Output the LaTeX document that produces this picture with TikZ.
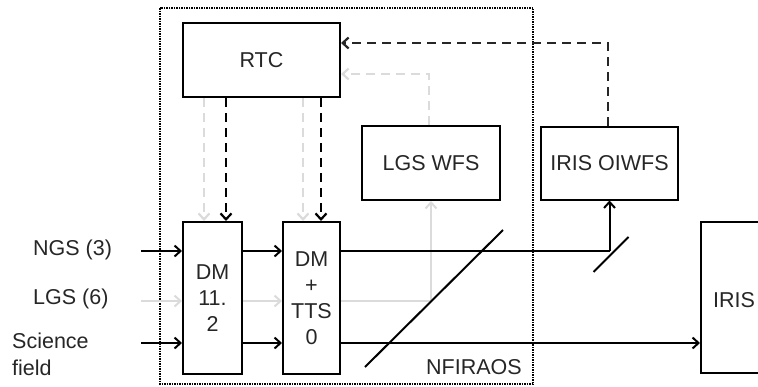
\documentclass[tikz,border=0pt]{standalone}
\usepackage{fontspec}
\setmainfont{Liberation Sans}
\usetikzlibrary{arrows.meta}

\tikzset{
	blk/.style = {draw, line width = 2pt, inner sep = 0pt, font = \fontsize{21.5}{26}\selectfont, align = center, text = black!85},
	lab/.style = {font = \fontsize{21.5}{27}\selectfont, align = left, anchor = west, inner sep = 0pt, text = black!85},
	beam/.style = {line width = 2pt},
	faint/.style = {line width = 2pt, black!14},
	ctrl/.style = {line width = 2.2pt, dash pattern = on 9pt off 6pt},
}

\begin{document}
\begin{tikzpicture}[x = 1pt, y = -1pt, >={Straight Barb[length=6pt, width=11pt]}]
	\useasboundingbox (0,0) rectangle (758,386);
	\draw[line width = 1.5pt, densely dotted] (160,8) rectangle (533,384);

	\node[blk, minimum width = 157pt, minimum height = 74pt] (rtc) at (261.5,60) {RTC};
	\node[blk, minimum width = 138pt, minimum height = 74pt] (lgswfs) at (431,163) {LGS WFS};
	\node[blk, minimum width = 137pt, minimum height = 73pt] (oiwfs) at (609.5,163) {IRIS OIWFS};
	\node[blk, minimum width = 59pt, minimum height = 152pt] (dma) at (212.5,298) {DM\\11.\\2};
	\node[blk, minimum width = 57pt, minimum height = 152pt] (dmb) at (311.5,298) {DM\\+\\TTS\\0};
	\node[blk, anchor = west, minimum width = 100pt, minimum height = 151pt] (iris) at (700,297.5) {};
	\node[lab] (iristext) at (713,300) {IRIS};

	\node[lab] (ngslab) at (33,250) {NGS (3)};
	\node[lab] (lgslab) at (33,299) {LGS (6)};
	\node[lab, anchor = north west] (scilab) at (12,333) {Science\\field};
	\node[lab, anchor = center] (nfiraos) at (474,367) {NFIRAOS};

	\coordinate (ngs) at (141,251);
	\coordinate (lgs) at (141,301);
	\coordinate (sci) at (141,343);
	\coordinate (fold) at (oiwfs.south |- ngs);
	\coordinate (split) at (lgswfs.south |- lgs);

	% light paths
	\draw[faint, ->] (lgs) -- (lgs -| dma.west);
	\draw[faint, ->] (lgs -| dma.east) -- (lgs -| dmb.west);
	\draw[faint] (lgs -| dmb.east) -- (split);
	\draw[faint, ->] (split) -- (lgswfs.south);
	\draw[beam, ->] (ngs) -- (ngs -| dma.west);
	\draw[beam, ->] (ngs -| dma.east) -- (ngs -| dmb.west);
	\draw[beam] (ngs -| dmb.east) -- (fold);
	\draw[beam, ->] (fold) -- (oiwfs.south);
	\draw[beam, ->] (sci) -- (sci -| dma.west);
	\draw[beam, ->] (sci -| dma.east) -- (sci -| dmb.west);
	\draw[beam, ->] (sci -| dmb.east) -- (sci -| iris.west);
	\draw[beam] ([shift = {(-66,66)}]split) -- ([shift = {(72,-71)}]split);
	\draw[beam] ([shift = {(-16,21)}]fold) -- ([shift = {(19,-14)}]fold);

	% control paths
	\draw[ctrl, black!14, ->] ([xshift = 22pt]dma.north west |- rtc.south) -- ([xshift = 22pt]dma.north west);
	\draw[ctrl, ->] ([xshift = 44pt]dma.north west |- rtc.south) -- ([xshift = 44pt]dma.north west);
	\draw[ctrl, black!14, ->] ([xshift = 21pt]dmb.north west |- rtc.south) -- ([xshift = 21pt]dmb.north west);
	\draw[ctrl, ->] ([xshift = 39pt]dmb.north west |- rtc.south) -- ([xshift = 39pt]dmb.north west);
	\draw[ctrl, black!14, ->] ([xshift = -2pt]lgswfs.north) |- ([yshift = -14pt]rtc.east);
	\draw[ctrl, black!85, ->] ([xshift = -1.5pt]oiwfs.north) |- ([yshift = 17pt]rtc.east);
\end{tikzpicture}
\end{document}
